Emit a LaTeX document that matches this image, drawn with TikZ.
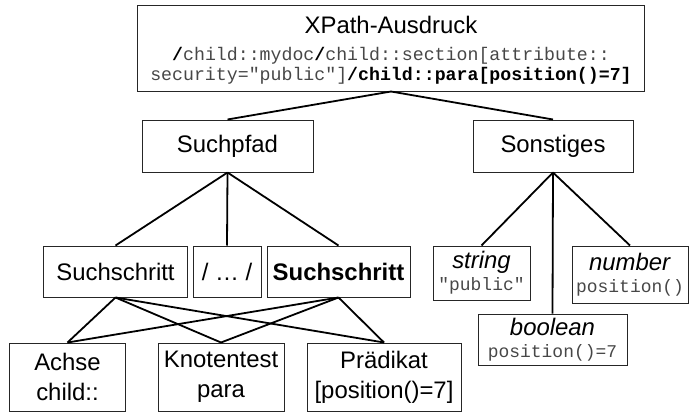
\documentclass[tikz,border=0pt]{standalone}
\usepackage{fontspec}
\setmainfont{Liberation Sans}
\setmonofont{Liberation Mono}
\newcommand{\lightmono}[1]{\textcolor{black!72}{#1}}
\begin{document}
\begin{tikzpicture}[x=1bp,y=1bp,
  box/.style={draw=black!85,line width=1bp,inner sep=0pt,align=center,
    font=\fontsize{24}{30}\selectfont},
  typebox/.style={box,font=\fontsize{24}{22}\selectfont},
  conn/.style={line width=1.8bp,black},
  mono/.style={font=\fontsize{18.3}{20}\selectfont\ttfamily,inner sep=0pt,anchor=base}]
\useasboundingbox (0,0) rectangle (689,413);
% top box
\node[box,minimum width=506bp,minimum height=85bp] (top) at (391,364.5) {};
\node[inner sep=0pt,anchor=base,font=\fontsize{24}{28}\selectfont] (toptitle) at (391,380) {XPath-Ausdruck};
\node[mono] (topl1) at (391,353) {\textbf{/}\lightmono{child::mydoc}\textbf{/}\lightmono{child::section[attribute::}};
\node[mono] (topl2) at (391,333) {\lightmono{security="public"]}\textbf{/child::para[position()=7]}};
% second level
\node[box,minimum width=171bp,minimum height=52bp] (suchpfad) at (227.5,267) {Suchpfad};
\node[box,minimum width=160bp,minimum height=52bp] (sonstiges) at (553,267) {Sonstiges};
% third level
\node[box,minimum width=143bp,minimum height=51bp] (ss1) at (115.5,141.5) {Suchschritt};
\node[box,minimum width=68bp,minimum height=51bp] (dots) at (227,141.5) {/ … /};
\node[box,minimum width=143bp,minimum height=51bp] (ss2) at (338.5,141.5) {\textbf{Suchschritt}};
\node[typebox,minimum width=97bp,minimum height=54bp] (string) at (481.5,140) {\textit{string}\\{\fontsize{18}{20}\selectfont\ttfamily\lightmono{"public"}}};
\node[typebox,minimum width=116bp,minimum height=57bp] (number) at (630,138.5) {\textit{number}\\{\fontsize{18}{20}\selectfont\ttfamily\lightmono{position()}}};
\node[typebox,minimum width=149bp,minimum height=51bp] (boolean) at (552.5,73.5) {\textit{boolean}\\{\fontsize{18}{20}\selectfont\ttfamily\lightmono{position()=7}}};
% bottom level
\node[box,minimum width=115bp,minimum height=68bp] (achse) at (67.5,36) {Achse\\child::};
\node[box,minimum width=126bp,minimum height=68bp] (knoten) at (221,36) {Knotentest\\para};
\node[box,minimum width=154bp,minimum height=68bp] (praed) at (384,36) {Prädikat\\{[}position()=7{]}};
% connectors
\draw[conn] (top.south) -- (suchpfad.north);
\draw[conn] (top.south) -- (sonstiges.north);
\draw[conn] (suchpfad.south) -- (ss1.north);
\draw[conn] (suchpfad.south) -- (dots.north);
\draw[conn] (suchpfad.south) -- (ss2.north);
\draw[conn] (ss1.south) -- (achse.north);
\draw[conn] (ss1.south) -- (knoten.north);
\draw[conn] (ss1.south) -- (praed.north);
\draw[conn] (ss2.south) -- (achse.north);
\draw[conn] (ss2.south) -- (knoten.north);
\draw[conn] (ss2.south) -- (praed.north);
\draw[conn] (sonstiges.south) -- (string.north);
\draw[conn] (sonstiges.south) -- (boolean.north);
\draw[conn] (sonstiges.south) -- (number.north);
\end{tikzpicture}
\end{document}
